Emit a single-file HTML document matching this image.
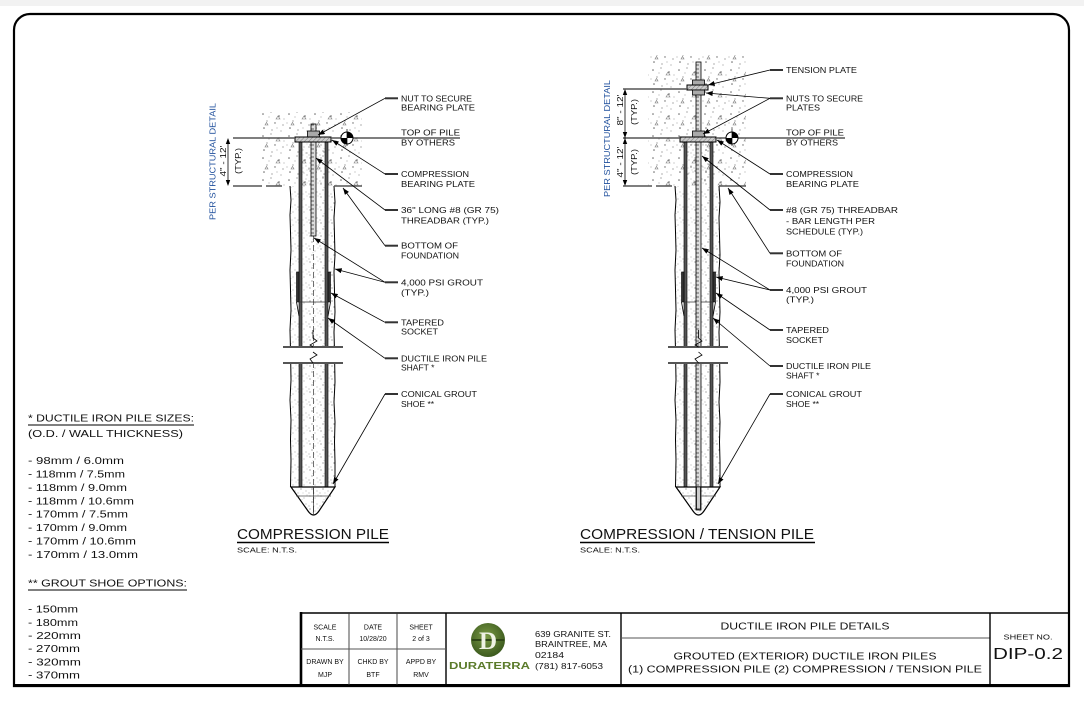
<!DOCTYPE html>
<html><head><meta charset="utf-8"><style>
html,body{margin:0;padding:0;background:#fff;}
svg{display:block;}
text{font-family:"Liberation Sans",sans-serif;fill:#111;}
</style></head><body>
<svg width="1084" height="702" viewBox="0 0 1084 702" xmlns="http://www.w3.org/2000/svg">
<defs>
<pattern id="conc" width="26" height="22" patternUnits="userSpaceOnUse">
<circle cx="3" cy="4" r="0.8" fill="#666"/><circle cx="11" cy="2" r="0.6" fill="#777"/><circle cx="19" cy="6" r="0.8" fill="#666"/>
<circle cx="7" cy="11" r="0.6" fill="#777"/><circle cx="15" cy="13" r="0.7" fill="#666"/><circle cx="23" cy="15" r="0.6" fill="#777"/>
<circle cx="4" cy="18" r="0.8" fill="#666"/><circle cx="12" cy="20" r="0.6" fill="#777"/><circle cx="21" cy="21" r="0.5" fill="#666"/>
<circle cx="9" cy="7" r="0.45" fill="#777"/><circle cx="24" cy="9" r="0.45" fill="#777"/><circle cx="17" cy="18" r="0.45" fill="#777"/>
<circle cx="1" cy="13" r="0.45" fill="#777"/>
<path d="M16,9 l2,-3 l2,3z" fill="none" stroke="#777" stroke-width="0.6"/><path d="M5,15 l1.5,-2.5 l1.5,2.5z" fill="none" stroke="#777" stroke-width="0.6"/>
</pattern>
<pattern id="gr" width="11" height="13" patternUnits="userSpaceOnUse">
<circle cx="2" cy="2" r="0.6" fill="#777"/><circle cx="7" cy="4" r="0.5" fill="#888"/><circle cx="4" cy="8" r="0.6" fill="#777"/>
<circle cx="9" cy="10" r="0.5" fill="#888"/><circle cx="1" cy="12" r="0.45" fill="#777"/><circle cx="6" cy="12" r="0.4" fill="#888"/>
<circle cx="10" cy="1" r="0.4" fill="#888"/><circle cx="5" cy="5.5" r="0.35" fill="#888"/>
</pattern>
<pattern id="hat" width="3" height="3" patternUnits="userSpaceOnUse" patternTransform="rotate(45)">
<rect width="3" height="3" fill="#ccc"/><line x1="0" y1="0" x2="0" y2="3" stroke="#666" stroke-width="0.8"/>
</pattern>
<pattern id="barp" width="5" height="4" patternUnits="userSpaceOnUse">
<rect width="5" height="4" fill="#ddd"/><line x1="1" y1="1" x2="4" y2="1" stroke="#555" stroke-width="0.9"/>
</pattern>
<marker id="ah" viewBox="0 0 8 6" refX="8" refY="3" markerWidth="7" markerHeight="5" markerUnits="userSpaceOnUse" orient="auto">
<path d="M0,0 L8,3 L0,6 z" fill="#000"/>
</marker>
<radialGradient id="lg" cx="0.45" cy="0.4" r="0.6"><stop offset="0" stop-color="#7a9a45"/><stop offset="1" stop-color="#3c5a1e"/></radialGradient>
</defs>

<rect x="0" y="0" width="1084" height="6" fill="#f2f2f2"/>
<!-- frame -->
<path d="M14,686 L14,30 A16,16 0 0 1 30,14 L1053,14 A16,16 0 0 1 1069,30 L1069,686 Z" fill="none" stroke="#000" stroke-width="2.2"/>
<line x1="14" y1="685.5" x2="1069" y2="685.5" stroke="#000" stroke-width="3"/>

<!-- ============ LEFT PILE ============ -->
<rect x="262" y="112" width="100" height="74" fill="url(#conc)"/>
<rect x="290.5" y="186" width="44" height="301" fill="url(#gr)"/>
<rect x="302" y="142" width="23" height="44" fill="url(#gr)"/>
<polyline points="290,186 291,200 290,215 290.5,232 291,250 290,270 290.5,290 291,310 290,330 290.5,350 291,380 290,400 291,420 290.5,440 291,460 290.5,487" fill="none" stroke="#000" stroke-width="1"/>
<polyline points="334,186 335,202 334,218 334.5,236 335,255 334,272 334.5,292 335,312 334,332 334.5,352 335,382 334,402 335,422 334.5,442 335,462 335,487" fill="none" stroke="#000" stroke-width="1"/>
<rect x="299" y="142" width="3" height="345" fill="#555" stroke="#000" stroke-width="0.6"/>
<rect x="325" y="142" width="3" height="345" fill="#555" stroke="#000" stroke-width="0.6"/>
<rect x="296.5" y="272" width="2.5" height="30" fill="#333" stroke="#000" stroke-width="0.6"/>
<rect x="328" y="272" width="2.5" height="30" fill="#333" stroke="#000" stroke-width="0.6"/>
<line x1="299" y1="302" x2="328" y2="302" stroke="#333" stroke-width="0.8"/>
<path d="M296.5,302 L299,316 M330.5,302 L328,316" stroke="#000" stroke-width="0.8"/>
<line x1="313.5" y1="236" x2="313.5" y2="514" stroke="#333" stroke-width="0.7" stroke-dasharray="6,3"/>
<rect x="311" y="124" width="5" height="112" fill="url(#barp)" stroke="#000" stroke-width="0.8"/>
<rect x="307.5" y="131" width="12" height="6" fill="#aaa" stroke="#000" stroke-width="0.8"/>
<rect x="295" y="137" width="36" height="5" fill="url(#hat)" stroke="#000" stroke-width="1"/>
<rect x="284" y="348" width="58" height="14" fill="#fff"/>
<line x1="283" y1="347" x2="343" y2="347" stroke="#555" stroke-width="2"/>
<line x1="283" y1="363" x2="343" y2="363" stroke="#555" stroke-width="2"/>
<polyline points="313,330 313,338 317,341 310,345 313,347" fill="none" stroke="#000" stroke-width="0.8"/>
<polyline points="313,363 310,359 317,355 313,352" fill="none" stroke="#000" stroke-width="0.8"/>
<path d="M291,487 L308,511 Q313.5,519 319,511 L335,487 Z" fill="url(#gr)" stroke="#000" stroke-width="1.2"/>
<line x1="291" y1="487" x2="335" y2="487" stroke="#000" stroke-width="1"/>
<line x1="296" y1="496" x2="331" y2="496" stroke="#555" stroke-width="0.7"/>
<line x1="313.5" y1="487" x2="313.5" y2="515" stroke="#333" stroke-width="0.7"/>
<line x1="233" y1="138" x2="295" y2="138" stroke="#555" stroke-width="1.6"/>
<line x1="331" y1="138" x2="460" y2="138" stroke="#555" stroke-width="1.6"/>
<path d="M233,186 L262,186 M266,186 L282,186 M334,186 L362,186" stroke="#555" stroke-width="1.6"/>
<line x1="228" y1="141" x2="228" y2="183" stroke="#000" stroke-width="0.8"/>
<path d="M228,138 l-2.2,6 h4.4z M228,186 l-2.2,-6 h4.4z" fill="#000"/>
<g transform="translate(347,138)"><circle r="6" fill="#fff" stroke="#000" stroke-width="1"/><path d="M0,0 L6,0 A6,6 0 0 0 0,-6 Z" fill="#000"/><path d="M0,0 L-6,0 A6,6 0 0 0 0,6 Z" fill="#000"/><line x1="0" y1="-9" x2="0" y2="8" stroke="#000" stroke-width="0.7"/></g>
<text transform="translate(212.5,161.5) rotate(-90)" text-anchor="middle" font-size="8.5" style="fill:#1f4f9c" textLength="117" lengthAdjust="spacingAndGlyphs" dy="3">PER STRUCTURAL DETAIL</text>
<text transform="translate(223,161) rotate(-90)" text-anchor="middle" font-size="8" textLength="31" lengthAdjust="spacingAndGlyphs" dy="3">4" - 12'</text>
<text transform="translate(238,161) rotate(-90)" text-anchor="middle" font-size="8" textLength="26" lengthAdjust="spacingAndGlyphs" dy="3">(TYP.)</text>

<g stroke="#333" stroke-width="2">
<line x1="385" y1="98.3" x2="398" y2="98.3"/><line x1="385" y1="174" x2="398" y2="174"/><line x1="385" y1="210" x2="398" y2="210"/>
<line x1="385" y1="245.7" x2="398" y2="245.7"/><line x1="385" y1="282.3" x2="398" y2="282.3"/><line x1="385" y1="322.3" x2="398" y2="322.3"/>
<line x1="385" y1="358.3" x2="398" y2="358.3"/><line x1="385" y1="394" x2="398" y2="394"/>
</g>
<g stroke="#000" stroke-width="0.8" fill="none" marker-end="url(#ah)">
<line x1="385" y1="98.3" x2="318" y2="135"/>
<line x1="385" y1="174" x2="332" y2="140"/>
<line x1="385" y1="210" x2="316" y2="158"/>
<line x1="385" y1="245.7" x2="343" y2="188"/>
<line x1="385" y1="282.3" x2="314" y2="238"/>
<line x1="385" y1="282.3" x2="335" y2="269"/>
<line x1="385" y1="322.3" x2="331" y2="293"/>
<line x1="385" y1="358.3" x2="328" y2="318"/>
<line x1="385" y1="394" x2="333" y2="484"/>
</g>
<g font-size="8.5">
<text x="401" y="101.3" textLength="71" lengthAdjust="spacingAndGlyphs">NUT TO SECURE</text>
<text x="401" y="110.7" textLength="74" lengthAdjust="spacingAndGlyphs">BEARING PLATE</text>
<text x="401" y="135.7" textLength="59" lengthAdjust="spacingAndGlyphs">TOP OF PILE</text>
<text x="401" y="145.7" textLength="54" lengthAdjust="spacingAndGlyphs">BY OTHERS</text>
<text x="401" y="177" textLength="68" lengthAdjust="spacingAndGlyphs">COMPRESSION</text>
<text x="401" y="187" textLength="74" lengthAdjust="spacingAndGlyphs">BEARING PLATE</text>
<text x="401" y="213" textLength="98" lengthAdjust="spacingAndGlyphs">36" LONG #8 (GR 75)</text>
<text x="401" y="223.7" textLength="88" lengthAdjust="spacingAndGlyphs">THREADBAR (TYP.)</text>
<text x="401" y="248.7" textLength="57" lengthAdjust="spacingAndGlyphs">BOTTOM OF</text>
<text x="401" y="258.7" textLength="58" lengthAdjust="spacingAndGlyphs">FOUNDATION</text>
<text x="401" y="285.3" textLength="82" lengthAdjust="spacingAndGlyphs">4,000 PSI GROUT</text>
<text x="401" y="295.3" textLength="28" lengthAdjust="spacingAndGlyphs">(TYP.)</text>
<text x="401" y="325.3" textLength="43" lengthAdjust="spacingAndGlyphs">TAPERED</text>
<text x="401" y="334.7" textLength="37" lengthAdjust="spacingAndGlyphs">SOCKET</text>
<text x="401" y="361.3" textLength="86" lengthAdjust="spacingAndGlyphs">DUCTILE IRON PILE</text>
<text x="401" y="370.7" font-size="8.5">SHAFT *</text>
<text x="401" y="397" textLength="76" lengthAdjust="spacingAndGlyphs">CONICAL GROUT</text>
<text x="401" y="407" font-size="8.5">SHOE **</text>
</g>
<text x="237" y="539" font-size="15" textLength="152" lengthAdjust="spacingAndGlyphs">COMPRESSION PILE</text>
<line x1="237" y1="542.5" x2="389" y2="542.5" stroke="#000" stroke-width="1.4"/>
<text x="237" y="552.5" font-size="7.5" textLength="60" lengthAdjust="spacingAndGlyphs">SCALE: N.T.S.</text>

<!-- ============ RIGHT PILE ============ -->
<rect x="648" y="55" width="98" height="131" fill="url(#conc)"/>
<rect x="675.5" y="186" width="44" height="301" fill="url(#gr)"/>
<rect x="687" y="142" width="23" height="44" fill="url(#gr)"/>
<polyline points="675,186 676,200 675,215 675.5,232 676,250 675,270 675.5,290 676,310 675,330 675.5,350 676,380 675,400 676,420 675.5,440 676,460 675.5,487" fill="none" stroke="#000" stroke-width="1"/>
<polyline points="719,186 720,202 719,218 719.5,236 720,255 719,272 719.5,292 720,312 719,332 719.5,352 720,382 719,402 720,422 719.5,442 720,462 720,487" fill="none" stroke="#000" stroke-width="1"/>
<rect x="684" y="142" width="3" height="345" fill="#555" stroke="#000" stroke-width="0.6"/>
<rect x="710" y="142" width="3" height="345" fill="#555" stroke="#000" stroke-width="0.6"/>
<rect x="681.5" y="272" width="2.5" height="30" fill="#333" stroke="#000" stroke-width="0.6"/>
<rect x="713" y="272" width="2.5" height="30" fill="#333" stroke="#000" stroke-width="0.6"/>
<line x1="684" y1="302" x2="713" y2="302" stroke="#333" stroke-width="0.8"/>
<path d="M681.5,302 L684,316 M715.5,302 L713,316" stroke="#000" stroke-width="0.8"/>
<rect x="696" y="62" width="5" height="448" fill="url(#barp)" stroke="#000" stroke-width="0.8"/>
<rect x="692.5" y="80" width="12" height="5" fill="#aaa" stroke="#000" stroke-width="0.8"/>
<rect x="687" y="85" width="21" height="5" fill="url(#hat)" stroke="#000" stroke-width="1"/>
<rect x="692.5" y="90" width="12" height="5" fill="#aaa" stroke="#000" stroke-width="0.8"/>
<rect x="692.5" y="131" width="12" height="6" fill="#aaa" stroke="#000" stroke-width="0.8"/>
<rect x="680" y="137" width="36" height="5" fill="url(#hat)" stroke="#000" stroke-width="1"/>
<rect x="669" y="348" width="58" height="14" fill="#fff"/>
<line x1="668" y1="347" x2="728" y2="347" stroke="#555" stroke-width="2"/>
<line x1="668" y1="363" x2="728" y2="363" stroke="#555" stroke-width="2"/>
<polyline points="698.5,330 698.5,338 702,341 695,345 698.5,347" fill="none" stroke="#000" stroke-width="0.8"/>
<polyline points="698.5,363 695,359 702,355 698.5,352" fill="none" stroke="#000" stroke-width="0.8"/>
<path d="M676,487 L693,511 Q698.5,519 704,511 L720,487 Z" fill="url(#gr)" stroke="#000" stroke-width="1.2"/>
<line x1="676" y1="487" x2="720" y2="487" stroke="#000" stroke-width="1"/>
<line x1="681" y1="496" x2="716" y2="496" stroke="#555" stroke-width="0.7"/>
<rect x="696.5" y="487" width="4" height="22" fill="#ccc" stroke="#000" stroke-width="0.7"/>
<line x1="623" y1="89" x2="687" y2="89" stroke="#555" stroke-width="1.6"/>
<line x1="623" y1="138" x2="680" y2="138" stroke="#555" stroke-width="1.6"/>
<line x1="716" y1="138" x2="845" y2="138" stroke="#555" stroke-width="1.6"/>
<path d="M623,186 L652,186 M656,186 L672,186 M719,186 L746,186" stroke="#555" stroke-width="1.6"/>
<line x1="625" y1="92" x2="625" y2="183" stroke="#000" stroke-width="0.8"/>
<path d="M625,89 l-2.2,6 h4.4z M625,138 l-2.2,-6 h4.4z M625,138 l-2.2,6 h4.4z M625,186 l-2.2,-6 h4.4z" fill="#000"/>
<g transform="translate(732,138)"><circle r="6" fill="#fff" stroke="#000" stroke-width="1"/><path d="M0,0 L6,0 A6,6 0 0 0 0,-6 Z" fill="#000"/><path d="M0,0 L-6,0 A6,6 0 0 0 0,6 Z" fill="#000"/><line x1="0" y1="-9" x2="0" y2="8" stroke="#000" stroke-width="0.7"/></g>
<text transform="translate(607,138.5) rotate(-90)" text-anchor="middle" font-size="8.5" style="fill:#1f4f9c" textLength="117" lengthAdjust="spacingAndGlyphs" dy="3">PER STRUCTURAL DETAIL</text>
<text transform="translate(620,110) rotate(-90)" text-anchor="middle" font-size="8" textLength="31" lengthAdjust="spacingAndGlyphs" dy="3">8" - 12'</text>
<text transform="translate(634,112) rotate(-90)" text-anchor="middle" font-size="8" textLength="26" lengthAdjust="spacingAndGlyphs" dy="3">(TYP.)</text>
<text transform="translate(620,162) rotate(-90)" text-anchor="middle" font-size="8" textLength="31" lengthAdjust="spacingAndGlyphs" dy="3">4" - 12'</text>
<text transform="translate(634,162) rotate(-90)" text-anchor="middle" font-size="8" textLength="26" lengthAdjust="spacingAndGlyphs" dy="3">(TYP.)</text>

<g stroke="#333" stroke-width="2">
<line x1="770" y1="70" x2="783" y2="70"/><line x1="770" y1="98.3" x2="783" y2="98.3"/><line x1="770" y1="174" x2="783" y2="174"/>
<line x1="770" y1="210" x2="783" y2="210"/><line x1="770" y1="253.3" x2="783" y2="253.3"/><line x1="770" y1="290" x2="783" y2="290"/>
<line x1="770" y1="330" x2="783" y2="330"/><line x1="770" y1="366" x2="783" y2="366"/><line x1="770" y1="394" x2="783" y2="394"/>
</g>
<g stroke="#000" stroke-width="0.8" fill="none" marker-end="url(#ah)">
<line x1="770" y1="70" x2="708" y2="85"/>
<line x1="770" y1="98.3" x2="706" y2="93"/>
<line x1="770" y1="98.3" x2="703" y2="134"/>
<line x1="770" y1="174" x2="717" y2="140"/>
<line x1="770" y1="210" x2="702" y2="156"/>
<line x1="770" y1="253.3" x2="728" y2="188"/>
<line x1="770" y1="290" x2="702" y2="248"/>
<line x1="770" y1="290" x2="716" y2="277"/>
<line x1="770" y1="330" x2="716" y2="293"/>
<line x1="770" y1="366" x2="713" y2="318"/>
<line x1="770" y1="394" x2="718" y2="484"/>
</g>
<g font-size="8.5">
<text x="786" y="73" textLength="71" lengthAdjust="spacingAndGlyphs">TENSION PLATE</text>
<text x="786" y="101.3" textLength="77" lengthAdjust="spacingAndGlyphs">NUTS TO SECURE</text>
<text x="786" y="110.7" textLength="34" lengthAdjust="spacingAndGlyphs">PLATES</text>
<text x="786" y="135.7" textLength="58" lengthAdjust="spacingAndGlyphs">TOP OF PILE</text>
<text x="786" y="145.7" textLength="52" lengthAdjust="spacingAndGlyphs">BY OTHERS</text>
<text x="786" y="177" textLength="67" lengthAdjust="spacingAndGlyphs">COMPRESSION</text>
<text x="786" y="187" textLength="73" lengthAdjust="spacingAndGlyphs">BEARING PLATE</text>
<text x="786" y="213" textLength="112" lengthAdjust="spacingAndGlyphs">#8 (GR 75) THREADBAR</text>
<text x="786" y="224" textLength="89" lengthAdjust="spacingAndGlyphs">- BAR LENGTH PER</text>
<text x="786" y="234.7" textLength="77" lengthAdjust="spacingAndGlyphs">SCHEDULE (TYP.)</text>
<text x="786" y="256.3" textLength="56" lengthAdjust="spacingAndGlyphs">BOTTOM OF</text>
<text x="786" y="266.3" textLength="58" lengthAdjust="spacingAndGlyphs">FOUNDATION</text>
<text x="786" y="293" textLength="81" lengthAdjust="spacingAndGlyphs">4,000 PSI GROUT</text>
<text x="786" y="302.3" textLength="28" lengthAdjust="spacingAndGlyphs">(TYP.)</text>
<text x="786" y="333" textLength="43" lengthAdjust="spacingAndGlyphs">TAPERED</text>
<text x="786" y="343" textLength="37" lengthAdjust="spacingAndGlyphs">SOCKET</text>
<text x="786" y="369" textLength="85" lengthAdjust="spacingAndGlyphs">DUCTILE IRON PILE</text>
<text x="786" y="378.7" font-size="8.5">SHAFT *</text>
<text x="786" y="397" textLength="76" lengthAdjust="spacingAndGlyphs">CONICAL GROUT</text>
<text x="786" y="407" font-size="8.5">SHOE **</text>
</g>
<text x="580" y="539" font-size="15" textLength="234" lengthAdjust="spacingAndGlyphs">COMPRESSION / TENSION PILE</text>
<line x1="580" y1="542.5" x2="815" y2="542.5" stroke="#000" stroke-width="1.4"/>
<text x="580" y="552.5" font-size="7.5" textLength="60" lengthAdjust="spacingAndGlyphs">SCALE: N.T.S.</text>

<!-- ============ NOTES ============ -->
<g font-size="10">
<text x="28" y="421.6" textLength="166" lengthAdjust="spacingAndGlyphs">* DUCTILE IRON PILE SIZES:</text>
<line x1="28" y1="425" x2="194" y2="425" stroke="#333" stroke-width="1.2"/>
<text x="28" y="437" textLength="155" lengthAdjust="spacingAndGlyphs">(O.D. / WALL THICKNESS)</text>
<text x="28" y="464.1" textLength="96" lengthAdjust="spacingAndGlyphs">- 98mm / 6.0mm</text>
<text x="28" y="477.5" textLength="97" lengthAdjust="spacingAndGlyphs">- 118mm / 7.5mm</text>
<text x="28" y="490.9" textLength="99" lengthAdjust="spacingAndGlyphs">- 118mm / 9.0mm</text>
<text x="28" y="504.3" textLength="106" lengthAdjust="spacingAndGlyphs">- 118mm / 10.6mm</text>
<text x="28" y="517.7" textLength="100" lengthAdjust="spacingAndGlyphs">- 170mm / 7.5mm</text>
<text x="28" y="531.1" textLength="99" lengthAdjust="spacingAndGlyphs">- 170mm / 9.0mm</text>
<text x="28" y="544.5" textLength="108" lengthAdjust="spacingAndGlyphs">- 170mm / 10.6mm</text>
<text x="28" y="557.9" textLength="110" lengthAdjust="spacingAndGlyphs">-  170mm / 13.0mm</text>
<text x="28" y="586.3" textLength="159" lengthAdjust="spacingAndGlyphs">** GROUT SHOE OPTIONS:</text>
<line x1="28" y1="590" x2="187" y2="590" stroke="#333" stroke-width="1.2"/>
<text x="28" y="612.6" textLength="50" lengthAdjust="spacingAndGlyphs">- 150mm</text>
<text x="28" y="625.8" textLength="50" lengthAdjust="spacingAndGlyphs">- 180mm</text>
<text x="28" y="639" textLength="53" lengthAdjust="spacingAndGlyphs">- 220mm</text>
<text x="28" y="652.2" textLength="52" lengthAdjust="spacingAndGlyphs">- 270mm</text>
<text x="28" y="665.4" textLength="53" lengthAdjust="spacingAndGlyphs">- 320mm</text>
<text x="28" y="678.6" textLength="52" lengthAdjust="spacingAndGlyphs">- 370mm</text>
</g>

<!-- ============ TITLE BLOCK ============ -->
<line x1="301" y1="613" x2="1069" y2="613" stroke="#000" stroke-width="1.6"/>
<line x1="301" y1="612" x2="301" y2="686" stroke="#000" stroke-width="2.6"/>
<line x1="349" y1="613" x2="349" y2="685" stroke="#333" stroke-width="0.9"/>
<line x1="397" y1="613" x2="397" y2="685" stroke="#333" stroke-width="0.9"/>
<line x1="446" y1="613" x2="446" y2="685" stroke="#000" stroke-width="1.4"/>
<line x1="301" y1="649" x2="446" y2="649" stroke="#555" stroke-width="1"/>
<line x1="621" y1="613" x2="621" y2="685" stroke="#000" stroke-width="1.4"/>
<line x1="621" y1="638" x2="990" y2="638" stroke="#555" stroke-width="1"/>
<line x1="990" y1="613" x2="990" y2="685" stroke="#000" stroke-width="1.4"/>
<g font-size="7" text-anchor="middle">
<text x="325" y="629.3">SCALE</text><text x="325" y="640.8">N.T.S.</text>
<text x="373" y="629.3">DATE</text><text x="373" y="640.8">10/28/20</text>
<text x="421" y="629.3">SHEET</text><text x="421" y="640.8">2 of 3</text>
<text x="325" y="664.2">DRAWN BY</text><text x="325" y="676.8">MJP</text>
<text x="373" y="664.2">CHKD BY</text><text x="373" y="676.8">BTF</text>
<text x="421" y="664.2">APPD BY</text><text x="421" y="676.8">RMV</text>
</g>
<circle cx="488" cy="640" r="17" fill="url(#lg)"/>
<line x1="472" y1="640" x2="504" y2="640" stroke="#2e4616" stroke-width="2"/>
<text x="488" y="649" text-anchor="middle" font-size="25" font-weight="bold" style="fill:#eef2e4;font-family:'Liberation Serif',serif">D</text>
<text x="449" y="669" font-size="10" font-weight="bold" style="fill:#5b7b2b" textLength="81" lengthAdjust="spacingAndGlyphs">DURATERRA</text>
<g font-size="8.5">
<text x="535" y="637" textLength="76" lengthAdjust="spacingAndGlyphs">639 GRANITE ST.</text>
<text x="535" y="647" textLength="72" lengthAdjust="spacingAndGlyphs">BRAINTREE, MA</text>
<text x="535" y="658" textLength="29" lengthAdjust="spacingAndGlyphs">02184</text>
<text x="535" y="669" textLength="68" lengthAdjust="spacingAndGlyphs">(781) 817-6053</text>
</g>
<g font-size="10" text-anchor="middle">
<text x="805" y="629.5" textLength="169" lengthAdjust="spacingAndGlyphs">DUCTILE IRON PILE DETAILS</text>
<text x="805" y="659.5" textLength="263" lengthAdjust="spacingAndGlyphs">GROUTED (EXTERIOR) DUCTILE IRON PILES</text>
<text x="805" y="672.5" textLength="354" lengthAdjust="spacingAndGlyphs">(1) COMPRESSION PILE (2) COMPRESSION / TENSION PILE</text>
</g>
<text x="1028" y="639.5" font-size="7.5" text-anchor="middle" textLength="49" lengthAdjust="spacingAndGlyphs">SHEET NO.</text>
<text x="1028" y="659" font-size="15.5" text-anchor="middle" textLength="70" lengthAdjust="spacingAndGlyphs">DIP-0.2</text>
</svg>
</body></html>
